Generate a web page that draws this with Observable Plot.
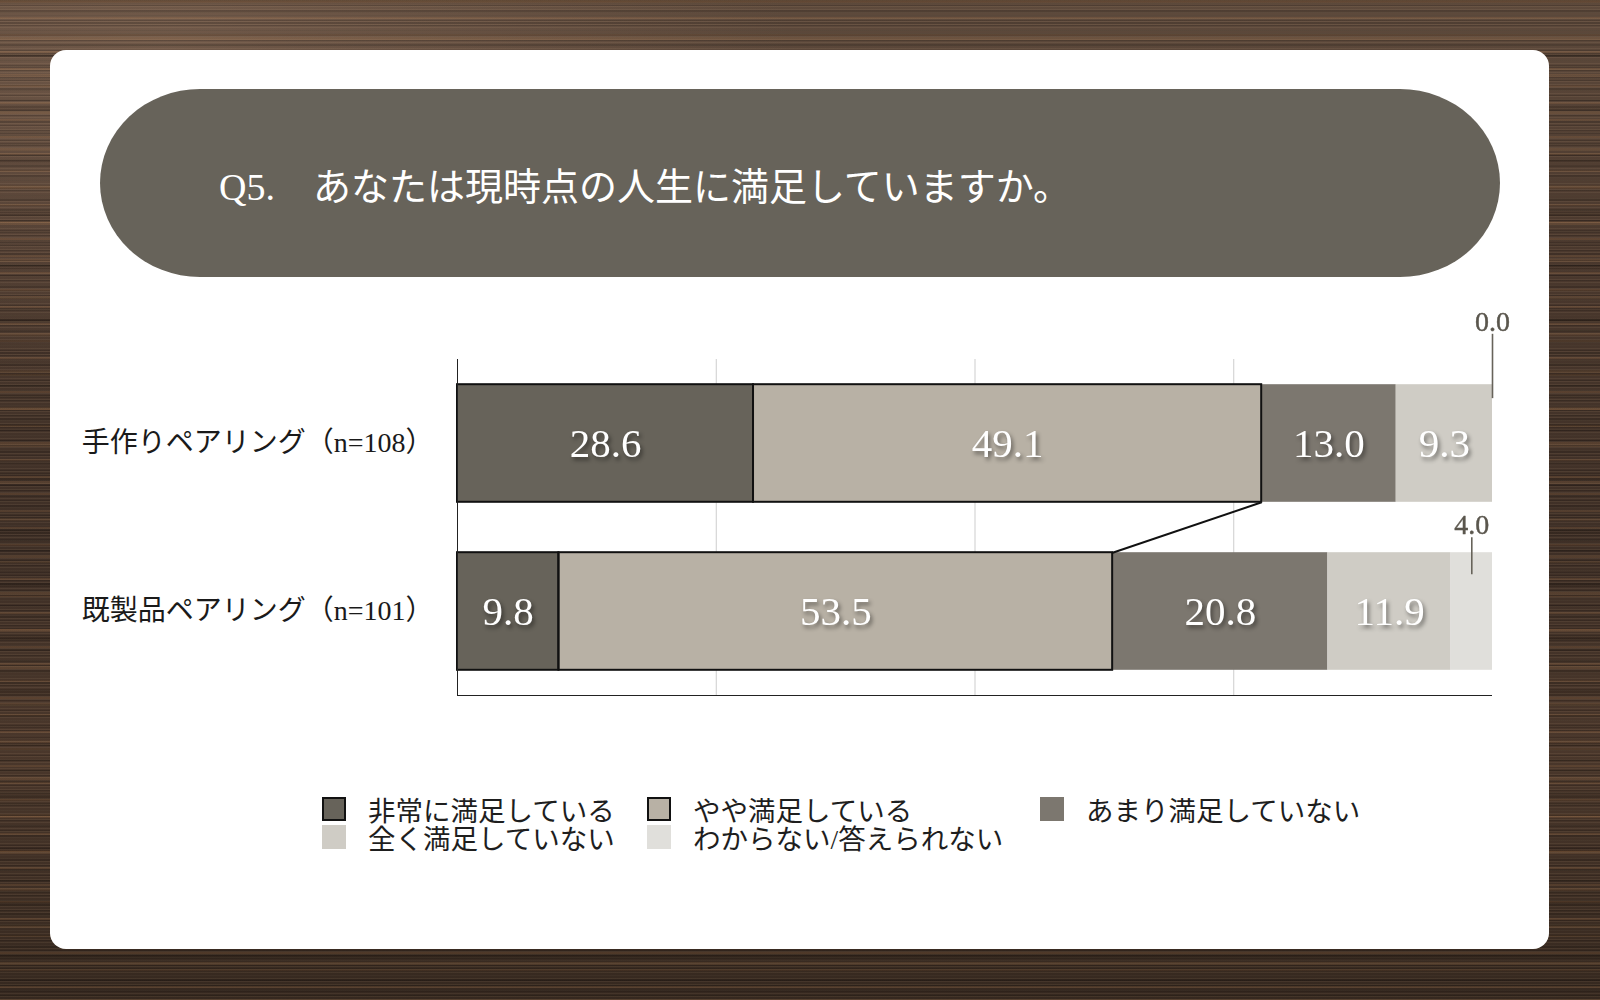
<!DOCTYPE html>
<html lang="ja">
<head>
<meta charset="utf-8">
<script src="https://cdn.jsdelivr.net/npm/d3@7"></script>
<script src="https://cdn.jsdelivr.net/npm/@observablehq/plot@0.6"></script>
<style>
  html, body { margin: 0; padding: 0; }
  body {
    width: 1600px; height: 1000px; position: relative; overflow: hidden;
    background-color: #44342a;
    background-image:
      repeating-linear-gradient(180deg, rgba(255,215,170,0.07) 0px, rgba(255,215,170,0.07) 1px, transparent 1px, transparent 3px),
      repeating-linear-gradient(180deg, rgba(0,0,0,0.16) 0px, rgba(0,0,0,0.16) 1px, transparent 1px, transparent 5px),
      repeating-linear-gradient(180deg, rgba(0,0,0,0.14) 0px, rgba(0,0,0,0.14) 2px, transparent 2px, transparent 11px),
      repeating-linear-gradient(180deg, rgba(190,130,80,0.16) 0px, rgba(190,130,80,0.16) 2px, transparent 2px, transparent 17px),
      repeating-linear-gradient(180deg, rgba(210,150,95,0.14) 0px, rgba(210,150,95,0.14) 3px, transparent 3px, transparent 37px),
      repeating-linear-gradient(180deg, rgba(15,8,4,0.18) 0px, rgba(15,8,4,0.18) 4px, transparent 4px, transparent 53px),
      radial-gradient(ellipse 900px 500px at 10% 5%, rgba(150,120,100,0.35), transparent 70%),
      linear-gradient(180deg, #5e4a3c 0%, #4a382d 25%, #3e2f26 55%, #4a372b 75%, #35281f 100%);
  }
  #card {
    position: absolute; left: 50px; top: 50px; width: 1499px; height: 899px;
    background: #fff; border-radius: 16px;
  }
  #title {
    position: absolute; left: 100px; top: 89px; width: 1400px; height: 188px;
    background: #67635a; border-radius: 100px / 94px;
    box-sizing: border-box; padding-left: 119px;
    display: flex; align-items: center;
    color: #fff; font-size: 38px; font-family: "Liberation Serif", "Noto Sans CJK JP", serif;
    white-space: nowrap;
  }
  #chart { position: absolute; left: 0; top: 290px; }
  #legend {
    position: absolute; left: 322px; top: 797px;
    display: grid; grid-template-columns: 325px 393px auto; row-gap: 4px;
    font-size: 27.5px; font-family: "Liberation Serif", "Noto Sans CJK JP", serif; color: #1e1e1e;
  }
  .item { display: flex; align-items: center; height: 24px; white-space: nowrap; }
  .sw { width: 24px; height: 24px; box-sizing: border-box; margin-right: 22px; flex: none; }
</style>
</head>
<body>
<div id="card"></div>
<div id="title">Q5.　あなたは現時点の人生に満足していますか。</div>
<div id="chart"></div>
<div id="legend"></div>
<script>
// ---- data ----
const groups = ["手作りペアリング（n=108）", "既製品ペアリング（n=101）"];
const categories = ["非常に満足している", "やや満足している", "あまり満足していない", "全く満足していない", "わからない/答えられない"];
const handmade = [28.6, 49.1, 13.0, 9.3, 0.0];
const readymade = [9.8, 53.5, 20.8, 11.9, 4.0];
const colors = ["#67635a", "#b8b1a5", "#7c776f", "#cfccc5", "#e0dfdb"];
const gridTicks = [25, 50, 75];
const outlinedCount = 2; // first two categories are outlined ("satisfied")

// ---- build table ----
const series = [handmade, readymade];
const rows = [];
series.forEach((vals, gi) => {
  let acc = 0;
  vals.forEach((v, ci) => {
    rows.push({gi, group: groups[gi], cat: categories[ci], ci, value: v, x1: acc, x2: acc + v, mid: acc + v / 2});
    acc += v;
  });
});
const satisfied = series.map(vals => vals.slice(0, outlinedCount).reduce((a, b) => a + b, 0));
const H = 0.35; // half bar thickness in band units
const connectors = [{x1: satisfied[0], y1: 0 + H, x2: satisfied[1], y2: 1 - H}];
const small = rows.filter(d => d.value < 5);
const big = rows.filter(d => d.value >= 5);
const lift = gi => gi === 0 ? {label: -0.375, top: -0.30, bot: 0.083} : {label: -0.167, top: -0.089, bot: 0.131};
const serif = "Liberation Serif, Noto Sans CJK JP, serif";

const plot = Plot.plot({
  width: 1600,
  height: 415,
  marginLeft: 457,
  marginRight: 108,
  marginTop: 69,
  marginBottom: 10,
  style: {background: "transparent", overflow: "visible", fontFamily: serif},
  x: {domain: [0, 100], axis: null},
  y: {domain: [1.5, -0.5]},
  color: {domain: categories, range: colors},
  marks: [
    Plot.ruleX(gridTicks, {stroke: "#cdcdcd", strokeWidth: 1}),
    Plot.rect(rows, {x1: "x1", x2: "x2", y1: d => d.gi - H, y2: d => d.gi + H, fill: "cat"}),
    Plot.rect(rows.filter(d => d.ci < outlinedCount), {x1: "x1", x2: "x2", y1: d => d.gi - H, y2: d => d.gi + H, fill: "none", stroke: "#111", strokeWidth: 2}),
    Plot.link(connectors, {x1: "x1", y1: "y1", x2: "x2", y2: "y2", stroke: "#111", strokeWidth: 2}),
    Plot.ruleX([0], {stroke: "#222", strokeWidth: 1}),
    Plot.ruleY([1.5], {stroke: "#222", strokeWidth: 1}),
    Plot.text(big, {x: "mid", y: "gi", text: d => d.value.toFixed(1), fill: "#fff", fontSize: 41, fontFamily: serif}),
    Plot.ruleX(small, {x: "mid", y1: d => d.gi - H + lift(d.gi).top, y2: d => d.gi - H + lift(d.gi).bot, stroke: "#67635a", strokeWidth: 1.6}),
    Plot.text(small, {x: "mid", y: d => d.gi - H + lift(d.gi).label, text: d => d.value.toFixed(1), fill: "#5a564d", fontSize: 28, fontFamily: serif, stroke: "#5a564d", strokeWidth: 0.4}),
    Plot.axisY({ticks: [0, 1], tickFormat: i => groups[i], tickSize: 0, tickPadding: 24, fontSize: 28, fontFamily: serif, label: null, fill: "#1a1a1a"})
  ]
});
document.getElementById("chart").appendChild(plot);
// soft shadow on in-bar value labels
const textGroups = plot.querySelectorAll('g[aria-label="text"]');
if (textGroups.length) textGroups[0].style.filter = "drop-shadow(2px 3px 2px rgba(0,0,0,0.45))";

// ---- legend ----
const legend = d3.select("#legend");
categories.forEach((c, i) => {
  const it = legend.append("div").attr("class", "item");
  it.append("div").attr("class", "sw")
    .style("background", colors[i])
    .style("border", i < outlinedCount ? "2px solid #111" : "none");
  it.append("span").text(c);
});
</script>
</body>
</html>
